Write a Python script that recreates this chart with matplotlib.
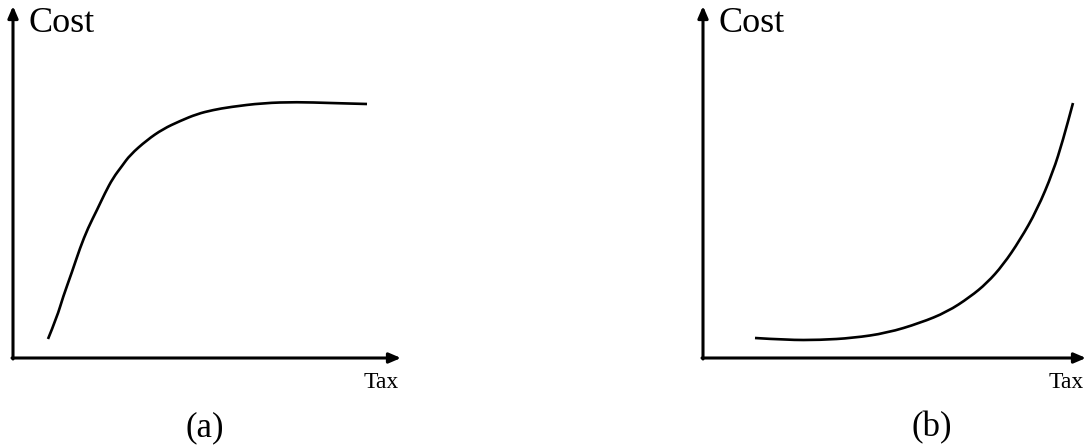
import matplotlib.pyplot as plt
from matplotlib.path import Path
from matplotlib.patches import PathPatch

plt.rcParams['font.family'] = ['Liberation Serif', 'DejaVu Serif']

# cost vs tax, panel (a): saturating rise
tax_a = [35, 44, 50, 59, 67, 75, 84, 92, 100, 109, 117, 134, 150, 167, 184,
         200, 217, 250, 284, 317, 354]
cost_a = [19, 41, 61, 86, 110, 130, 148, 165, 180, 192, 203, 218, 229, 237,
          244, 248, 251, 255, 256, 255, 254]

# cost vs tax, panel (b): flat then sharp rise
tax_b = [52, 84, 117, 150, 184, 217, 244, 267, 284, 300, 317, 334, 350, 360, 370]
cost_b = [20, 18, 18, 20, 25, 35, 46, 61, 75, 93, 118, 148, 186, 218, 255]

panels = [
    (tax_a, cost_a, '(a)'),
    (tax_b, cost_b, '(b)'),
]


def smooth_path(xs, ys):
    """Quadratic bezier through the midpoints, using the points as controls."""
    pts = list(zip(xs, ys))
    verts = [pts[0]]
    codes = [Path.MOVETO]
    for i in range(1, len(pts) - 1):
        mid = ((pts[i][0] + pts[i + 1][0]) / 2, (pts[i][1] + pts[i + 1][1]) / 2)
        verts += [pts[i], mid]
        codes += [Path.CURVE3, Path.CURVE3]
    verts.append(pts[-1])
    codes.append(Path.LINETO)
    return Path(verts, codes)


W, H = 1088, 448
fig = plt.figure(figsize=(W / 100, H / 100), dpi=100)

# axis origins / sizes in figure pixels, plus caption centre x
layout = [(13, 90, 388, 205), (703, 90, 383, 932)]
ax_h = 352

for (tax, cost, label), (ox, oy, ax_w, cap_x) in zip(panels, layout):
    ax = fig.add_axes([ox / W, oy / H, ax_w / W, ax_h / H])
    ax.set_xlim(0, ax_w)
    ax.set_ylim(0, ax_h)
    ax.axis('off')

    arrow = dict(arrowstyle='-|>,head_length=0.7,head_width=0.3', color='black',
                 lw=2.2, shrinkA=0, shrinkB=0)
    ax.annotate('', xy=(ax_w, 0), xytext=(-1, 0), arrowprops=arrow,
                annotation_clip=False)
    ax.annotate('', xy=(0, ax_h), xytext=(0, -1), arrowprops=arrow,
                annotation_clip=False)

    ax.add_patch(PathPatch(smooth_path(tax, cost), fill=False,
                           edgecolor='black', lw=1.9, capstyle='butt'))

    ax.text(16, ax_h - 1, 'Cost', fontsize=26, ha='left', va='top')
    ax.text(ax_w - 2, -14, 'Tax', fontsize=17, ha='right', va='top')
    ax.text(cap_x - ox, -70, label, fontsize=25, ha='center', va='center')

fig.savefig('out.png', dpi=100, facecolor='white')
